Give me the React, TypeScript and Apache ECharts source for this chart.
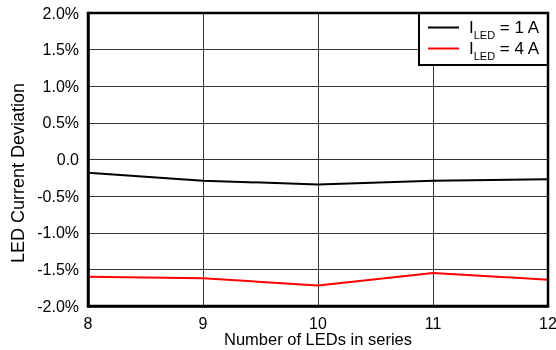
import React, { useEffect, useRef } from "react";
import * as echarts from "echarts";

const ledCounts = [8, 9, 10, 11, 12];
const dev1A = [-0.18, -0.29, -0.34, -0.29, -0.27];
const dev4A = [-1.6, -1.62, -1.72, -1.55, -1.64];
const seriesNames = ["ILED = 1 A", "ILED = 4 A"];
const legendCurrents = ["1 A", "4 A"];
const xAxisTitle = "Number of LEDs in series";
const yAxisTitle = "LED Current Deviation";

export default function App() {
  const ref = useRef<HTMLDivElement>(null);
  useEffect(() => {
    if (!ref.current) return;
    const chart = echarts.init(ref.current, null, { renderer: "svg" });
    const font = "Liberation Sans, Arial, sans-serif";
    chart.setOption({
      animation: false,
      textStyle: { fontFamily: font },
      grid: { left: 88, right: 8, top: 13, bottom: 44, show: false, containLabel: false, outerBoundsMode: "none" },
      legend: {
        orient: "vertical",
        right: 8,
        top: 13,
        backgroundColor: "#fff",
        borderColor: "#000",
        borderWidth: 2,
        borderRadius: 0,
        padding: [6, 8, 4, 9],
        itemGap: 0,
        itemWidth: 31,
        itemHeight: 14,
        icon: "path://M0,6 L31,6 L31,8 L0,8 Z",
        data: seriesNames,
        formatter: (name: string) => {
          const i = seriesNames.indexOf(name);
          return `{i|I}{s|LED}{i| = ${legendCurrents[i]}}`;
        },
        textStyle: {
          color: "#000",
          fontFamily: font,
          padding: [0, 0, 0, 5],
          rich: {
            i: { fontSize: 17, color: "#000", fontFamily: font, verticalAlign: "bottom", lineHeight: 17 },
            s: { fontSize: 11, color: "#000", fontFamily: font, verticalAlign: "bottom", lineHeight: 11, padding: [0, 0, -4, 0] },
          },
        },
      },
      xAxis: {
        type: "value",
        min: 8,
        max: 12,
        interval: 1,
        axisLine: { show: true, onZero: false, lineStyle: { color: "#000", width: 2.5 } },
        axisTick: { show: false },
        axisLabel: { fontSize: 16, color: "#000", margin: 9, fontFamily: font },
        splitLine: { show: true, lineStyle: { color: "#333", width: 1 } },
      },
      yAxis: {
        type: "value",
        min: -2,
        max: 2,
        interval: 0.5,
        axisLine: { show: true, onZero: false, lineStyle: { color: "#000", width: 2.5 } },
        axisTick: { show: false },
        axisLabel: {
          fontSize: 16,
          color: "#000",
          margin: 9,
          fontFamily: font,
          formatter: (v: number) => (v === 0 ? "0.0" : v.toFixed(1) + "%"),
        },
        splitLine: { show: true, lineStyle: { color: "#333", width: 1 } },
      },
      graphic: [
        {
          type: "rect",
          shape: { x: 88, y: 13, width: 460, height: 293 },
          style: { fill: "none", stroke: "#000", lineWidth: 2.5 },
          silent: true,
          z: 10,
        },
        {
          type: "text",
          x: 318,
          y: 339,
          style: {
            text: xAxisTitle,
            fontSize: 16.5,
            fontFamily: font,
            fill: "#000",
            align: "center",
            verticalAlign: "middle",
          },
          silent: true,
        },
        {
          type: "text",
          x: 18,
          y: 173,
          rotation: Math.PI / 2,
          style: {
            text: yAxisTitle,
            fontSize: 18,
            fontFamily: font,
            fill: "#000",
            align: "center",
            verticalAlign: "middle",
          },
          silent: true,
        },
      ],
      series: [
        {
          name: seriesNames[0],
          type: "line",
          data: ledCounts.map((x, i) => [x, dev1A[i]]),
          symbol: "none",
          lineStyle: { color: "#000", width: 2 },
          itemStyle: { color: "#000" },
        },
        {
          name: seriesNames[1],
          type: "line",
          data: ledCounts.map((x, i) => [x, dev4A[i]]),
          symbol: "none",
          lineStyle: { color: "#ff0000", width: 2 },
          itemStyle: { color: "#ff0000" },
        },
      ],
    });
    return () => chart.dispose();
  }, []);
  return (
    <div
      ref={ref}
      style={{ position: "fixed", left: 0, top: 0, width: 556, height: 350 }}
    />
  );
}
